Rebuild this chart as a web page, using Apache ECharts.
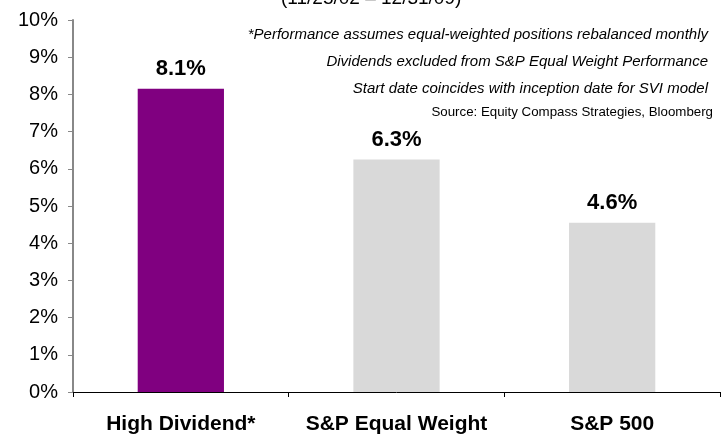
<!DOCTYPE html>
<html>
<head>
<meta charset="utf-8">
<script src="https://cdn.jsdelivr.net/npm/echarts@6/dist/echarts.min.js"></script>
<style>
  html, body { margin: 0; padding: 0; background: #fff; }
  #chart { width: 723px; height: 437px; }
</style>
</head>
<body>
<div id="chart"></div>
<script>
const categories = ['High Dividend*', 'S&P Equal Weight', 'S&P 500']
const values = [8.15, 6.25, 4.55]
const valueLabels = ['8.1%', '6.3%', '4.6%']
const barColors = ['#800080', '#d9d9d9', '#d9d9d9']
const notes = [
  '*Performance assumes equal-weighted positions rebalanced monthly',
  'Dividends excluded from S&P Equal Weight Performance',
  'Start date coincides with inception date for SVI model'
]
const source = 'Source: Equity Compass Strategies, Bloomberg'
const subtitle = '(11/25/02 \u2013 12/31/09)'

const chart = echarts.init(document.getElementById('chart'), null, { renderer: 'canvas' })

const option = {
  animation: false,
  textStyle: { fontFamily: 'Liberation Sans, Arial, sans-serif' },
  grid: { left: 73, right: 3, top: 20, bottom: 45 },
  xAxis: {
    type: 'category',
    data: categories,
    axisLine: { lineStyle: { color: '#000', width: 1 } },
    axisTick: { show: true, length: 5, alignWithLabel: false, lineStyle: { color: '#000' } },
    axisLabel: {
      color: '#000',
      fontSize: 21,
      fontWeight: 'bold',
      margin: 22,
      interval: 0
    }
  },
  yAxis: {
    type: 'value',
    min: 0,
    max: 10,
    interval: 1,
    axisLine: { show: true, lineStyle: { color: '#888', width: 2 } },
    axisTick: { show: true, length: 5, lineStyle: { color: '#888', width: 1 } },
    axisLabel: {
      color: '#000',
      fontSize: 20,
      margin: 15,
      formatter: v => v + '%'
    },
    splitLine: { show: false }
  },
  series: [{
    type: 'bar',
    barWidth: '40%',
    data: values.map((v, i) => ({
      value: v,
      itemStyle: { color: barColors[i] },
      label: { formatter: valueLabels[i] }
    })),
    label: {
      show: true,
      position: 'top',
      distance: 9,
      color: '#000',
      fontSize: 22,
      fontWeight: 'bold'
    }
  }],
  graphic: [
    {
      type: 'text',
      left: 281,
      top: -11,
      style: { text: subtitle, fill: '#000', font: '19px Liberation Sans' }
    },
    {
      type: 'group',
      right: 10,
      top: 27,
      children: notes.map((t, i) => ({
        type: 'text',
        x: 0,
        y: i * 27,
        style: {
          text: t,
          fill: '#000',
          font: 'italic 15px Liberation Sans',
          align: 'right'
        }
      })).concat([{
        type: 'text',
        x: 5,
        y: 3 * 27 - 2,
        style: {
          text: source,
          fill: '#000',
          font: '13.3px Liberation Sans',
          align: 'right'
        }
      }])
    }
  ]
}

chart.setOption(option)
</script>
</body>
</html>
